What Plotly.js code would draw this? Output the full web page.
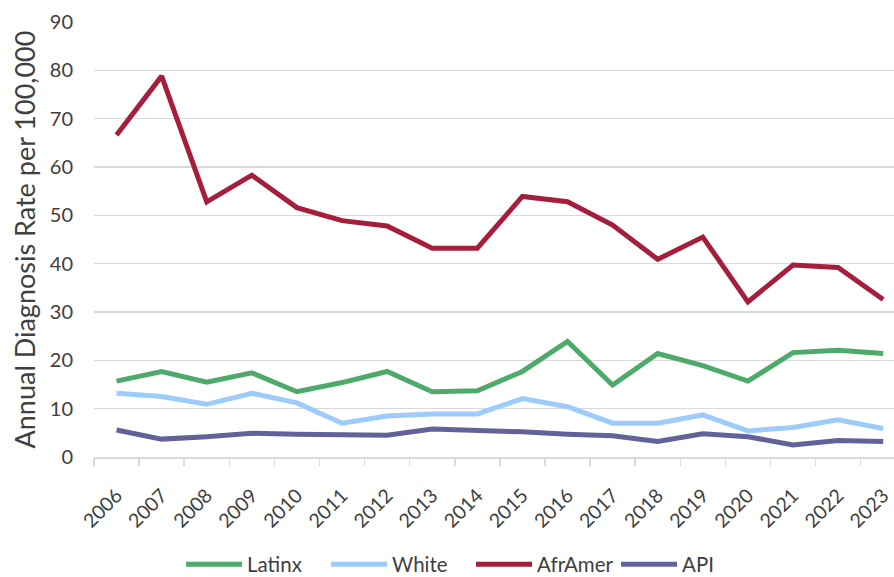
<!DOCTYPE html>
<html>
<head>
<meta charset="utf-8">
<script src="https://cdn.plot.ly/plotly-3.0.1.min.js"></script>
<style>html,body{margin:0;padding:0;overflow:hidden;background:#fff;}#chart{width:894px;height:577px;}</style>
</head>
<body>
<div id="chart"></div>
<script>
const years = ["2006","2007","2008","2009","2010","2011","2012","2013","2014","2015","2016","2017","2018","2019","2020","2021","2022","2023"];
const latinx  = [15.7,17.7,15.5,17.4,13.5,15.4,17.7,13.5,13.7,17.7,23.9,14.9,21.4,18.9,15.7,21.6,22.1,21.4];
const white   = [13.2,12.5,10.9,13.2,11.2,7.0,8.5,8.9,8.9,12.1,10.4,7.0,7.0,8.7,5.4,6.1,7.7,5.9];
const afrAmer = [66.6,78.8,52.8,58.3,51.6,48.9,47.8,43.2,43.2,53.9,52.8,48.0,40.9,45.5,32.1,39.7,39.2,32.6];
const api     = [5.6,3.7,4.2,4.9,4.7,4.5,4.5,5.8,5.6,5.2,4.7,4.4,3.2,4.8,4.2,2.5,3.4,3.2];

const names = ["Latinx","White","AfrAmer","API"];
const colors = ["#4DAA6B","#9DCCFA","#A51F3D","#62619A"];
const series = [latinx, white, afrAmer, api];

const traces = series.map((s,i)=>({
  x: years, y: s, name: names[i], type: "scatter", mode: "lines",
  line: {color: colors[i], width: 5}
}));

const layout = {
  width: 894, height: 577,
  margin: {l: 94, r: 0, t: 22, b: 120},
  paper_bgcolor: "#fff", plot_bgcolor: "#fff",
  font: {family: "Lato, 'Open Sans', sans-serif", color: "#404040", size: 20},
  showlegend: true,
  legend: {orientation: "h", xref: "container", x: 0.2025, xanchor: "left", yref: "container", y: 0.022, yanchor: "middle",
           font: {size: 20.5, color: "#404040"}, itemwidth: 56, entrywidth: 74, traceorder: "normal"},
  xaxis: {
    type: "category", range: [-0.5, 17.24], tickangle: -45, automargin: false,
    showline: true, linecolor: "#d9d9d9", linewidth: 1.5,
    ticks: "outside", tickson: "boundaries", ticklen: 7, tickcolor: "#d9d9d9", tickwidth: 1.5,
    ticklabelstandoff: 18,
    showgrid: false, tickfont: {size: 19.5, color: "#404040"}, fixedrange: true
  },
  yaxis: {
    range: [0, 90], dtick: 10, showgrid: true, gridcolor: "#d9d9d9", gridwidth: 1.5, automargin: false,
    zeroline: false, showline: false, ticks: "", ticklabelstandoff: 20,
    tickfont: {size: 20, color: "#404040"},
    title: {text: "Annual Diagnosis Rate per 100,000", font: {size: 27, color: "#404040"}, standoff: 6}
  }
};
Plotly.newPlot("chart", traces, layout, {displayModeBar: false, staticPlot: true});
</script>
</body>
</html>
